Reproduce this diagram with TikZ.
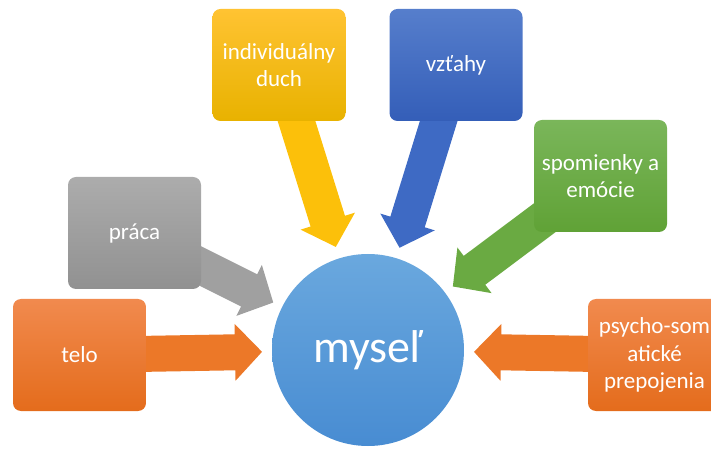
\documentclass[tikz,border=0pt]{standalone}
\usepackage{fontspec}
\setmainfont{Carlito}
\usetikzlibrary{calc}
\definecolor{orT}{RGB}{241,138,78}
\definecolor{orB}{RGB}{228,108,28}
\definecolor{orA}{RGB}{236,120,40}
\definecolor{grT}{RGB}{172,172,172}
\definecolor{grB}{RGB}{145,145,145}
\definecolor{grA}{RGB}{160,160,160}
\definecolor{yeT}{RGB}{255,195,50}
\definecolor{yeB}{RGB}{232,178,0}
\definecolor{yeA}{RGB}{252,192,10}
\definecolor{blT}{RGB}{86,126,204}
\definecolor{blB}{RGB}{52,94,184}
\definecolor{blA}{RGB}{62,106,196}
\definecolor{gnT}{RGB}{122,182,90}
\definecolor{gnB}{RGB}{96,162,54}
\definecolor{gnA}{RGB}{106,170,66}
\definecolor{ciT}{RGB}{106,168,222}
\definecolor{ciB}{RGB}{72,140,210}
\newcommand\bigarrow[3]{%
  \fill[#3] let \p1=(#1), \p2=(#2.center),
     \n1={atan2(\y2-\y1,\x2-\x1)}, \n2={veclen(\x2-\x1,\y2-\y1)} in
   (\p1) -- ($(\p1)+(\n1:27)+(\n1+90:28.5)$) -- ($(\p1)+(\n1:27)+(\n1+90:18)$)
   -- ($(\p1)+(\n1:\n2)+(\n1+90:18)$) -- ($(\p1)+(\n1:\n2)+(\n1-90:18)$)
   -- ($(\p1)+(\n1:27)+(\n1-90:18)$) -- ($(\p1)+(\n1:27)+(\n1-90:28.5)$) -- cycle;}
\begin{document}
\begin{tikzpicture}[x=1pt,y=1pt,
  box/.style={rectangle, rounded corners=8pt, minimum width=133pt, minimum height=112pt,
    text=white, align=center, inner sep=0pt,
    font=\fontsize{23}{27.5}\selectfont},
  hub/.style={circle, minimum size=192pt, inner sep=0pt, text=white,
    top color=ciT, bottom color=ciB, font=\fontsize{46}{50}\selectfont}]
\useasboundingbox (0,0) rectangle (711,452);
\clip (0,0) rectangle (711,452);
\coordinate (c) at (368,102);
\path (79.5,97) coordinate (pTelo);
\path (654.5,97) coordinate (pPsy);
\path (134.5,219) coordinate (pPra);
\path (279,387) coordinate (pInd);
\path (456,387) coordinate (pVzt);
\path (600.5,276) coordinate (pSpo);
% arrow tips
\coordinate (tTelo) at ($(c)!106pt!(pTelo)$);
\coordinate (tPsy) at ($(c)!106pt!(pPsy)$);
\coordinate (tPra) at ($(c)!106pt!(pPra)$);
\coordinate (tInd) at ($(c)!108pt!(pInd)$);
\coordinate (tVzt) at ($(c)!107pt!(pVzt)$);
\coordinate (tSpo) at ($(c)!106pt!(pSpo)$);
\bigarrow{tTelo}{pTelo}{orA}
\bigarrow{tPsy}{pPsy}{orA}
\bigarrow{tPra}{pPra}{grA}
\bigarrow{tInd}{pInd}{yeA}
\bigarrow{tVzt}{pVzt}{blA}
\bigarrow{tSpo}{pSpo}{gnA}
\node[box, top color=orT, bottom color=orB] (telo) at (pTelo) {telo};
\node[box, top color=orT, bottom color=orB] (psy) at (pPsy) {psycho-som\\atické\\prepojenia};
\node[box, top color=grT, bottom color=grB] (pra) at (pPra) {práca};
\node[box, top color=yeT, bottom color=yeB] (ind) at (pInd) {individuálny\\duch};
\node[box, top color=blT, bottom color=blB] (vzt) at (pVzt) {vzťahy};
\node[box, top color=gnT, bottom color=gnB] (spo) at (pSpo) {spomienky a\\emócie};
\node[hub] (mysel) at (c) {myseľ};
\end{tikzpicture}
\end{document}
